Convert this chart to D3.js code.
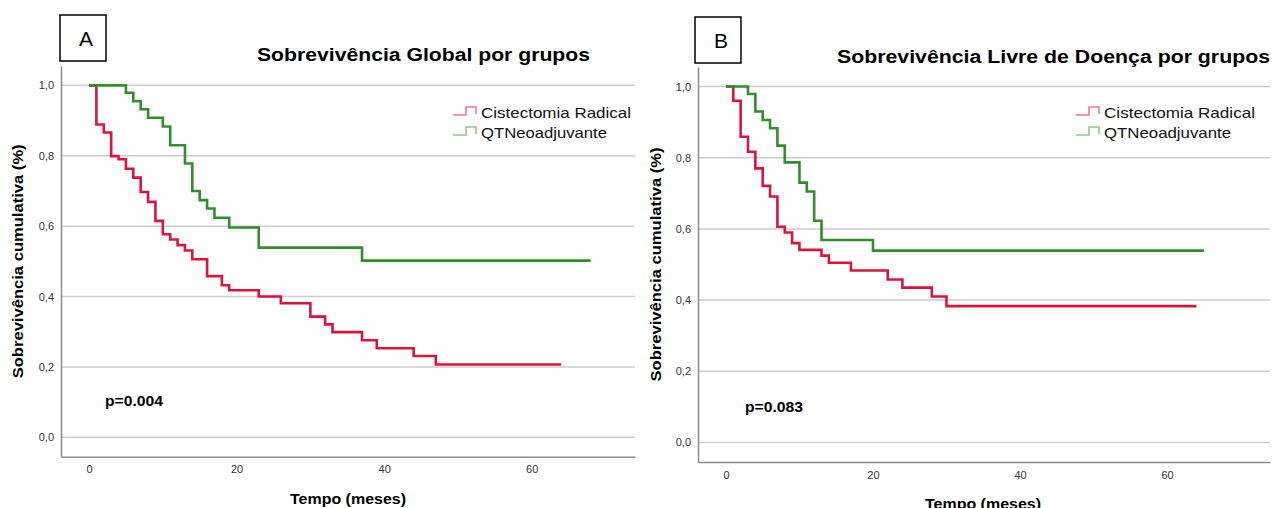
<!DOCTYPE html>
<html>
<head>
<meta charset="utf-8">
<script src="https://cdn.jsdelivr.net/npm/d3@7"></script>
<style>
  body { margin: 0; background: #fff; }
  svg { display: block; font-family: "Liberation Sans", Arial, sans-serif; }
</style>
</head>
<body>
<div class="chart"></div>
<script>
// tick values
var yTicks = [0, 0.2, 0.4, 0.6, 0.8, 1.0];
var xTicks = [0, 20, 40, 60];

var seriesNames = ["Cistectomia Radical", "QTNeoadjuvante"];

// panel A - sobrevivencia global (meses, proporcao)
var globalRadicalTimes = [0, 1, 2, 3, 4, 5, 6, 7, 8, 9, 10, 11, 12, 13, 14, 16, 18, 19, 23, 26, 30, 32, 33, 37, 39, 44, 47, 64];
var globalRadicalSurv  = [1, 0.889, 0.866, 0.799, 0.790, 0.763, 0.738, 0.697, 0.669, 0.615, 0.577, 0.562, 0.546, 0.531, 0.506, 0.458, 0.432, 0.418, 0.400, 0.381, 0.343, 0.321, 0.299, 0.276, 0.253, 0.231, 0.207, 0.207];
var globalNeoTimes = [0, 5, 6, 7, 8, 10, 11, 13, 14, 15, 16, 17, 19, 23, 37, 68];
var globalNeoSurv  = [1, 0.979, 0.955, 0.932, 0.908, 0.883, 0.830, 0.778, 0.700, 0.674, 0.650, 0.624, 0.596, 0.539, 0.502, 0.502];

// panel B - sobrevivencia livre de doenca
var dfsRadicalTimes = [0, 1, 2, 3, 4, 5, 6, 7, 8, 9, 10, 13, 14, 17, 22, 24, 28, 30, 64];
var dfsRadicalSurv  = [1, 0.960, 0.859, 0.817, 0.770, 0.721, 0.691, 0.606, 0.590, 0.560, 0.541, 0.525, 0.505, 0.483, 0.458, 0.435, 0.410, 0.383, 0.383];
var dfsNeoTimes = [0, 3, 4, 5, 6, 7, 8, 10, 11, 12, 13, 20, 65];
var dfsNeoSurv  = [1, 0.979, 0.930, 0.906, 0.883, 0.834, 0.787, 0.730, 0.705, 0.623, 0.569, 0.539, 0.539];

var colors = { line: ["#dc143c", "#2f8f2a"], legend: ["#f07a92", "#8cc98a"] };

// the picture is a bit wider than tall, so texts get a fixed length
var panels = [
	{ letter: "A", title: "Sobrevivência Global por grupos", titleLen: 333, p: "p=0.004",
	  left: 61, right: 635, top: 66, bottom: 456.7,
	  box: [60, 15], titleX: 423.5, titleY: 61, yLabelX: 23, pX: 105, pY: 406,
	  legendX: 453, legendLen: [150, 126], xLabelX: 348, xLabelY: 504,
	  series: [[globalRadicalTimes, globalRadicalSurv], [globalNeoTimes, globalNeoSurv]] },
	{ letter: "B", title: "Sobrevivência Livre de Doença por grupos", titleLen: 433, p: "p=0.083",
	  left: 698, right: 1270, top: 67, bottom: 462,
	  box: [695, 17], titleX: 1053.5, titleY: 63, yLabelX: 661, pX: 745, pY: 412,
	  legendX: 1076, legendLen: [151, 127], xLabelX: 983, xLabelY: 509,
	  series: [[dfsRadicalTimes, dfsRadicalSurv], [dfsNeoTimes, dfsNeoSurv]] }
];

var locale = d3.formatLocale({ decimal: ",", thousands: ".", grouping: [3], currency: ["", ""] });
var fmt = locale.format(".1f");

var svg = d3.select(".chart").append("svg")
	.attr("width", 1272)
	.attr("height", 508);

panels.forEach(function (P) {
	var x = d3.scaleLinear().domain([-3.8, 74]).range([P.left, P.right]);
	var y = d3.scaleLinear().domain([-0.055, 1.055]).range([P.bottom, P.top]);

	var g = svg.append("g");

	// grid lines
	g.selectAll("line.grid").data(yTicks).enter().append("line")
		.attr("class", "grid")
		.attr("x1", P.left).attr("x2", P.right)
		.attr("y1", function (d) { return y(d); })
		.attr("y2", function (d) { return y(d); })
		.attr("stroke", "#cdcdcd")
		.attr("stroke-width", 1.5);

	var yAxis = d3.axisLeft(y).tickValues(yTicks).tickFormat(fmt).tickSize(0).tickPadding(7);
	var xAxis = d3.axisBottom(x).tickValues(xTicks).tickSize(0).tickPadding(9);

	var ya = g.append("g").attr("transform", "translate(" + P.left + ",0)").call(yAxis);
	var xa = g.append("g").attr("transform", "translate(0," + P.bottom + ")").call(xAxis);
	[ya, xa].forEach(function (a) {
		a.select(".domain").attr("stroke", "#8c8c8c").attr("stroke-width", 1.5);
		a.selectAll("text").attr("fill", "#333").style("font-size", "11px").style("font-family", "\"Liberation Sans\", Arial, sans-serif");
	});

	// curves
	var line = d3.line()
		.x(function (d) { return x(d[0]); })
		.y(function (d) { return y(d[1]); })
		.curve(d3.curveStepAfter);

	P.series.forEach(function (s, i) {
		var pts = s[0].map(function (t, k) { return [t, s[1][k]]; });
		g.append("path")
			.datum(pts)
			.attr("d", line)
			.attr("fill", "none")
			.attr("stroke", colors.line[i])
			.attr("stroke-width", 2.6);
	});

	// legend
	seriesNames.forEach(function (name, i) {
		var ly = 113 + i * 20;
		var lx = P.legendX;
		g.append("path")
			.attr("d", "M" + lx + "," + (ly + 2) + "H" + (lx + 13) + "V" + (ly - 6) + "H" + (lx + 23) + "V" + (ly + 1))
			.attr("fill", "none")
			.attr("stroke", colors.legend[i])
			.attr("stroke-width", 1.6);
		g.append("text")
			.attr("x", lx + 28)
			.attr("y", ly + 5)
			.attr("textLength", P.legendLen[i])
			.attr("lengthAdjust", "spacingAndGlyphs")
			.style("font-size", "15px")
			.attr("fill", "#111")
			.text(name);
	});

	// p value
	g.append("text")
		.attr("x", P.pX).attr("y", P.pY)
		.attr("textLength", 58)
		.attr("lengthAdjust", "spacingAndGlyphs")
		.style("font-size", "15px").style("font-weight", "bold")
		.text(P.p);

	// axis titles
	g.append("text")
		.attr("x", P.xLabelX - 58)
		.attr("y", P.xLabelY)
		.attr("textLength", 116)
		.attr("lengthAdjust", "spacingAndGlyphs")
		.style("font-size", "15px").style("font-weight", "bold")
		.text("Tempo (meses)");

	var yl = 234;
	g.append("text")
		.attr("transform", "translate(" + P.yLabelX + "," + ((P.top + P.bottom) / 2) + ") rotate(-90)")
		.attr("x", -yl / 2)
		.attr("textLength", yl)
		.attr("lengthAdjust", "spacingAndGlyphs")
		.style("font-size", "15px").style("font-weight", "bold")
		.text("Sobrevivência cumulativa (%)");

	// title
	g.append("text")
		.attr("x", P.titleX - P.titleLen / 2).attr("y", P.titleY)
		.attr("textLength", P.titleLen)
		.attr("lengthAdjust", "spacingAndGlyphs")
		.style("font-size", "18px").style("font-weight", "bold")
		.text(P.title);

	// letter box
	g.append("rect")
		.attr("x", P.box[0]).attr("y", P.box[1])
		.attr("width", 46).attr("height", 46)
		.attr("fill", "#fff")
		.attr("stroke", "#000")
		.attr("stroke-width", 1.5);
	g.append("text")
		.attr("x", P.box[0] + 26).attr("y", P.box[1] + 31)
		.attr("text-anchor", "middle")
		.style("font-size", "21px")
		.text(P.letter);
});
</script>
</body>
</html>
